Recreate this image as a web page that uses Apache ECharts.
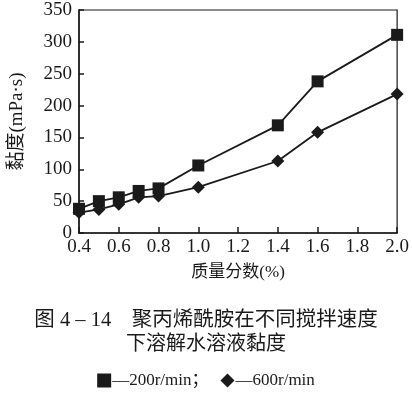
<!DOCTYPE html>
<html>
<head>
<meta charset="utf-8">
<script src="https://cdn.jsdelivr.net/npm/echarts@6/dist/echarts.min.js"></script>
<style>
html,body{margin:0;padding:0;background:#fff;}
#c{width:412px;height:395px;}
</style>
</head>
<body>
<div id="c"></div>
<script>
var xValues = [0.4, 0.5, 0.6, 0.7, 0.8, 1.0, 1.4, 1.6, 2.0];
var s200 = [38, 50, 56, 66, 70, 106, 169, 238, 311];
var s600 = [32, 37, 45, 56, 58, 72, 113, 158, 218];
var seriesNames = ['200r/min', '600r/min'];
var titleLine1 = '图 4 – 14　聚丙烯酰胺在不同搅拌速度';
var titleLine2 = '下溶解水溶液黏度';
var xName = '质量分数(%)';
var yName = '黏度(mPa·s)';

var serif = '"Liberation Serif", "DejaVu Serif", "Noto Sans CJK SC", serif';
var ink = '#1a1a1a';

function pairs(ys){ return xValues.map(function(x,i){ return [x, ys[i]]; }); }

var chart = echarts.init(document.getElementById('c'), null, {renderer:'canvas'});
chart.setOption({
  backgroundColor:'#fff',
  animation:false,
  title:[
    {text:titleLine1, left:'center', top:305, textStyle:{fontFamily:serif, fontSize:20.5, fontWeight:'normal', color:ink}},
    {text:titleLine2, left:'center', top:330, textStyle:{fontFamily:serif, fontSize:20, fontWeight:'normal', color:ink}}
  ],
  legend:{
    top:367, left:'center', itemGap:12, itemWidth:14, itemHeight:14,
    data:[{name:seriesNames[0], icon:'rect'},{name:seriesNames[1], icon:'diamond'}],
    formatter:function(n){ return n===seriesNames[0] ? '—'+n+'；' : '—'+n; },
    textStyle:{fontFamily:serif, fontSize:17, color:ink, padding:[0,0,0,-4]}
  },
  grid:{left:70, right:11, top:10, bottom:162, show:true, borderColor:ink, borderWidth:1.2},
  xAxis:{
    type:'value', min:0.4, max:2.0, interval:0.2,
    name:xName, nameLocation:'middle', nameGap:31,
    nameTextStyle:{fontFamily:serif, fontSize:17, color:ink},
    axisLine:{lineStyle:{color:ink, width:1.5}},
    axisTick:{inside:true, length:6, lineStyle:{color:ink, width:1.5}},
    axisLabel:{fontFamily:serif, fontSize:19, color:ink, margin:5,
      formatter:function(v){ return v.toFixed(1); }},
    splitLine:{show:false}
  },
  yAxis:{
    type:'value', min:0, max:350, interval:50,
    name:yName, nameLocation:'middle', nameGap:52, nameRotate:90,
    nameTextStyle:{fontFamily:serif, fontSize:19, color:ink, padding:[0,0,0,0]},
    axisLine:{show:true, lineStyle:{color:ink, width:1.5}},
    axisTick:{show:true, inside:true, length:5, lineStyle:{color:ink, width:1.5}},
    axisLabel:{fontFamily:serif, fontSize:19, color:ink, margin:7},
    splitLine:{show:false}
  },
  series:[
    {name:seriesNames[0], type:'line', data:pairs(s200), symbol:'rect', symbolSize:12,
     lineStyle:{color:ink, width:1.8}, itemStyle:{color:ink}},
    {name:seriesNames[1], type:'line', data:pairs(s600), symbol:'diamond', symbolSize:13,
     lineStyle:{color:ink, width:1.8}, itemStyle:{color:ink}}
  ]
});
</script>
</body>
</html>
